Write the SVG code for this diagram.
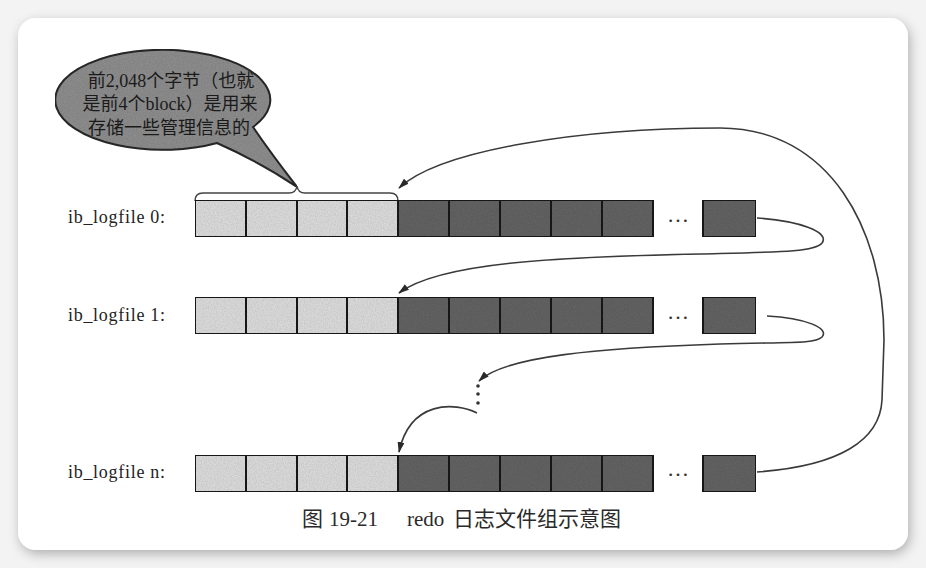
<svg xmlns="http://www.w3.org/2000/svg" width="926" height="568" viewBox="0 0 926 568">
  <style>
    .lbl { font-family: "Liberation Serif", "Noto Sans CJK SC", serif; font-size: 18px; fill: #222; }
    .bub { font-family: "Liberation Serif", "Noto Sans CJK SC", serif; font-size: 18px; fill: #1a1a1a; text-anchor: middle; }
    .cap { font-family: "Liberation Serif", "Noto Sans CJK SC", serif; font-size: 21px; fill: #2a2a2a; }
    .dots { font-family: "Liberation Serif", serif; font-size: 22px; fill: #333; text-anchor: middle; }
    .lt { fill: #dcdcdc; stroke: #1e1e1e; stroke-width: 2; }
    .dk { fill: #646464; stroke: #1e1e1e; stroke-width: 2; }
    .con { fill: none; stroke: #3a3a3a; stroke-width: 1.6; }
    .arr { marker-end: url(#ah); }
  </style>
  <defs>
    <marker id="ah" markerUnits="userSpaceOnUse" markerWidth="11" markerHeight="7" refX="10" refY="3.5" orient="auto">
      <path d="M0,0 L11,3.5 L0,7 Z" fill="#2a2a2a"/>
    </marker>
    <filter id="shadow" x="-5%" y="-5%" width="110%" height="115%">
      <feGaussianBlur in="SourceAlpha" stdDeviation="6"/>
      <feOffset dx="2" dy="4" result="b"/>
      <feColorMatrix in="b" type="matrix" values="0 0 0 0 0  0 0 0 0 0  0 0 0 0 0  0 0 0 0.28 0" result="s"/>
      <feMerge><feMergeNode in="s"/><feMergeNode in="SourceGraphic"/></feMerge>
    </filter>
    <filter id="grain" x="0" y="0" width="100%" height="100%">
      <feTurbulence type="fractalNoise" baseFrequency="0.85" numOctaves="2" seed="4" result="n"/>
      <feColorMatrix in="n" type="matrix" values="0 0 0 0 0  0 0 0 0 0  0 0 0 0 0  0.35 0 0 0 -0.08" result="na"/>
      <feComposite in="na" in2="SourceGraphic" operator="in" result="nc"/>
      <feMerge><feMergeNode in="SourceGraphic"/><feMergeNode in="nc"/></feMerge>
    </filter>
  </defs>

  <rect x="0" y="0" width="926" height="568" fill="#f3f3f3"/>
  <rect x="18" y="18" width="890" height="532" rx="18" ry="18" fill="#ffffff" filter="url(#shadow)"/>

  <g id="callout">
    <path d="M253,127 A107.5,50 0 1 0 217,143 Q262,163 297,187 Q270,152 253,127 Z" fill="#8e8e8e" stroke="#2a2a2a" stroke-width="2" filter="url(#grain)"/>
    <text class="bub" x="171" y="87">前2,048个字节（也就</text>
    <text class="bub" x="170" y="110">是前4个block）是用来</text>
    <text class="bub" x="169" y="134">存储一些管理信息的</text>
  </g>

  <g id="brace">
    <path d="M195,201 Q195,193 203,193 L289,193 Q296,193 297,186 Q298,193 305,193 L390,193 Q398,193 398,201" fill="none" stroke="#444" stroke-width="1.5"/>
  </g>

  <g id="logfile0">
    <text class="lbl" x="68" y="223" textLength="97" lengthAdjust="spacing">ib_logfile 0:</text>
    <g filter="url(#grain)">
      <rect class="lt" x="195" y="200" width="51" height="37"/>
      <rect class="lt" x="246" y="200" width="51" height="37"/>
      <rect class="lt" x="297" y="200" width="50" height="37"/>
      <rect class="lt" x="347" y="200" width="51" height="37"/>
      <rect class="dk" x="398" y="200" width="51" height="37"/>
      <rect class="dk" x="449" y="200" width="51" height="37"/>
      <rect class="dk" x="500" y="200" width="51" height="37"/>
      <rect class="dk" x="551" y="200" width="51" height="37"/>
      <rect class="dk" x="602" y="200" width="51" height="37"/>
      <rect class="dk" x="703" y="200" width="53" height="37"/>
    </g>
    <text class="dots" x="678" y="222">…</text>
  </g>

  <g id="logfile1">
    <text class="lbl" x="68" y="321" textLength="97" lengthAdjust="spacing">ib_logfile 1:</text>
    <g filter="url(#grain)">
      <rect class="lt" x="195" y="297" width="51" height="37"/>
      <rect class="lt" x="246" y="297" width="51" height="37"/>
      <rect class="lt" x="297" y="297" width="50" height="37"/>
      <rect class="lt" x="347" y="297" width="51" height="37"/>
      <rect class="dk" x="398" y="297" width="51" height="37"/>
      <rect class="dk" x="449" y="297" width="51" height="37"/>
      <rect class="dk" x="500" y="297" width="51" height="37"/>
      <rect class="dk" x="551" y="297" width="51" height="37"/>
      <rect class="dk" x="602" y="297" width="51" height="37"/>
      <rect class="dk" x="703" y="297" width="53" height="37"/>
    </g>
    <text class="dots" x="678" y="319">…</text>
  </g>

  <g id="logfilen">
    <text class="lbl" x="68" y="478" textLength="97" lengthAdjust="spacing">ib_logfile n:</text>
    <g filter="url(#grain)">
      <rect class="lt" x="195" y="455" width="51" height="37"/>
      <rect class="lt" x="246" y="455" width="51" height="37"/>
      <rect class="lt" x="297" y="455" width="50" height="37"/>
      <rect class="lt" x="347" y="455" width="51" height="37"/>
      <rect class="dk" x="398" y="455" width="51" height="37"/>
      <rect class="dk" x="449" y="455" width="51" height="37"/>
      <rect class="dk" x="500" y="455" width="51" height="37"/>
      <rect class="dk" x="551" y="455" width="51" height="37"/>
      <rect class="dk" x="602" y="455" width="51" height="37"/>
      <rect class="dk" x="703" y="455" width="53" height="37"/>
    </g>
    <text class="dots" x="678" y="476">…</text>
  </g>

  <g id="connectors">
    <path class="con arr" d="M757,472 C840,466 880,440 882,400 L884,340 C884,230 830,128 720,128 C580,128 440,150 399,188"/>
    <path class="con arr" d="M757,218 C800,221 830,232 822,243 C815,252 780,252 700,254 C560,257 440,262 399,293"/>
    <path class="con arr" d="M767,316 C805,318 830,328 822,337 C815,344 790,342 720,344 C600,348 505,356 479,381"/>
    <circle cx="478" cy="386" r="1.8" fill="#333"/>
    <circle cx="478" cy="394" r="1.8" fill="#333"/>
    <circle cx="478" cy="403" r="1.8" fill="#333"/>
    <path class="con arr" d="M477,413 C455,402 410,400 399,452"/>
  </g>

  <g id="caption">
    <text class="cap" y="526"><tspan x="302">图</tspan><tspan x="329">19-21</tspan><tspan x="407">redo</tspan><tspan x="453">日志文件组示意图</tspan></text>
  </g>
</svg>
